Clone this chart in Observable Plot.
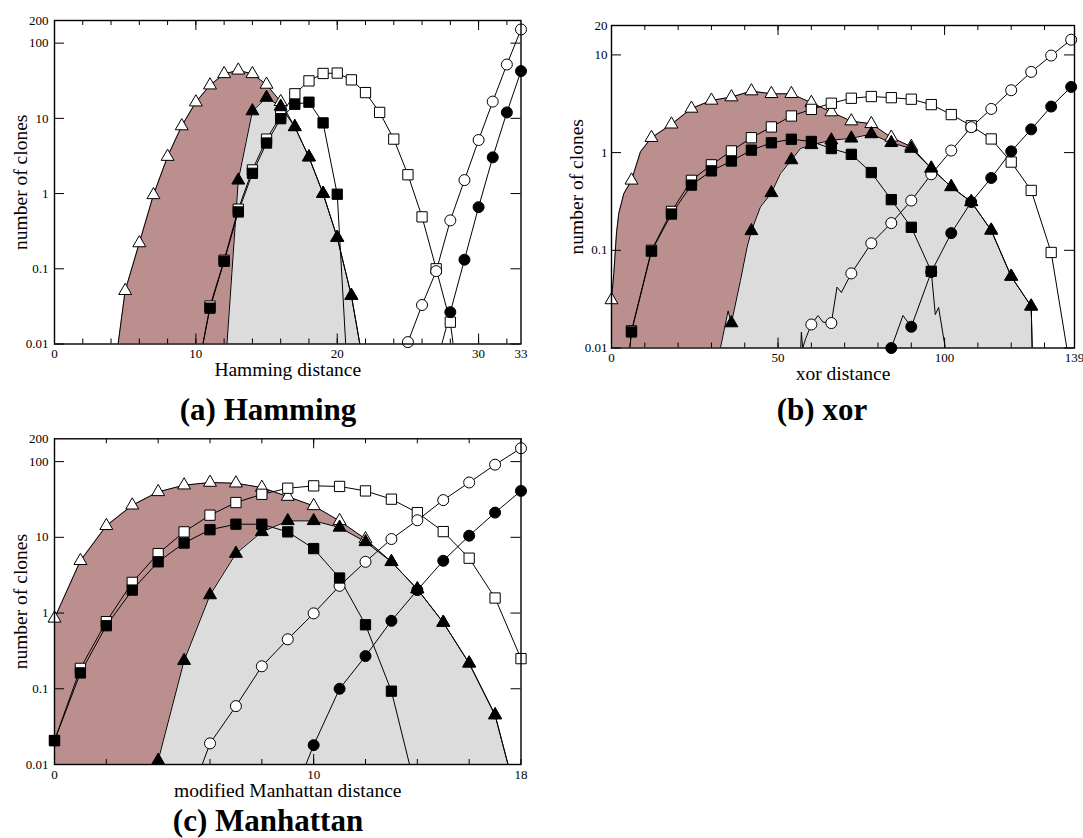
<!DOCTYPE html>
<html><head><meta charset="utf-8">
<script src="https://cdn.jsdelivr.net/npm/d3@7"></script>
<script src="https://cdn.jsdelivr.net/npm/@observablehq/plot@0.6"></script>
<style>
body{margin:0;background:#fff;}
#wrap{position:relative;width:1083px;height:838px;font-family:"Liberation Serif","Times New Roman",serif;overflow:hidden;}
.panel{position:absolute;}
.title{position:absolute;font-weight:bold;font-size:31px;line-height:31px;text-align:center;width:400px;color:#000;white-space:nowrap;}
</style></head><body>
<div id="wrap">
  <div class="panel" id="pa" style="left:0;top:0"></div>
  <div class="panel" id="pb" style="left:540px;top:0"></div>
  <div class="panel" id="pc" style="left:0;top:420px"></div>
  <div class="title" style="left:68px;top:394px">(a) Hamming</div>
  <div class="title" style="left:622px;top:394px">(b) xor</div>
  <div class="title" style="left:68px;top:805px">(c) Manhattan</div>
</div>
<script>
// ---------- (a) Hamming distance ----------
const hamOpenTri = [[4.5,0.01],[5,0.051],[6,0.22],[7,0.96],[8,3.1],[9,7.9],[10,16.4],[11,27.6],[12,39],[13,43.5],[14,39],[15,28.2],[16,16.6],[17,7.7],[18,3.05],[19,1.0],[20,0.26],[21,0.044],[21.6,0.01]];
const hamFillTri = [[12.2,0.01],[13,1.5],[14,12.5],[15,18.9],[16,14.4],[17,7.7],[18,3.05],[19,1.0],[20,0.26],[21,0.044],[21.6,0.01]];
const hamOpenSq = [[10.5,0.01],[11,0.032],[12,0.13],[13,0.62],[14,2.06],[15,5.3],[16,10.8],[17,21.2],[18,31.5],[19,39.5],[20,40],[21,32.5],[22,22],[23,12],[24,5.3],[25,1.78],[26,0.49],[27,0.1],[28,0.0195],[28.2,0.01]];
const hamFillSq = [[10.5,0.01],[11,0.03],[12,0.126],[13,0.57],[14,1.86],[15,4.7],[16,9.9],[17,15.4],[18,16.4],[19,8.7],[20,0.98],[20.6,0.01]];
const hamOpenCirc = [[25,0.0106],[26,0.033],[27,0.093],[28,0.44],[29,1.51],[30,5.15],[31,16.7],[32,52],[33,152]];
const hamFillCirc = [[27.4,0.01],[28,0.0265],[29,0.132],[30,0.66],[31,3.03],[32,12],[33,42.5]];
const hamXTicks = [0,2,4,6,8,10,12,14,16,18,20,22,24,26,28,30,32];
const hamXMajor = [0,10,20,30];
const hamXLabels = [0,10,20,30,33];

// ---------- (b) xor distance ----------
const xorOpenTri = [[0,0.031],[0.7,0.058],[1.5,0.15],[2.2,0.24],[3.7,0.38],[6,0.52],[8.7,1.02],[12,1.42],[18,1.95],[24,2.83],[30,3.42],[36,3.7],[42,4.26],[48,4.0],[54,4.0],[60,3.24],[66,2.6],[72,2.1],[78,1.97],[84,1.43],[90,1.15],[96,0.69],[102,0.446],[108,0.313],[114,0.16],[120,0.054],[126,0.0267],[126.3,0.01]];
const xorFillTri = [[32.7,0.01],[35,0.024],[36,0.018],[38.7,0.049],[40.7,0.108],[42,0.158],[44.7,0.278],[48,0.387],[50.7,0.61],[54,0.84],[56.7,1.1],[60,1.2],[66,1.34],[72,1.4],[78,1.55],[84,1.26],[90,1.1],[96,0.69],[102,0.446],[108,0.313],[114,0.16],[120,0.054],[126,0.0267],[126.3,0.01]];
const xorOpenSq = [[5.5,0.01],[6,0.015],[12,0.1],[18,0.25],[24,0.52],[30,0.75],[36,1.04],[42,1.42],[48,1.83],[54,2.37],[60,2.77],[66,3.2],[72,3.6],[78,3.75],[84,3.65],[90,3.52],[96,3.1],[102,2.45],[108,1.88],[114,1.38],[120,0.8],[126,0.41],[132,0.095],[136.7,0.01]];
const xorFillSq = [[5.5,0.01],[6,0.0146],[12,0.098],[18,0.235],[24,0.465],[30,0.65],[36,0.82],[42,1.06],[48,1.26],[54,1.37],[60,1.3],[66,1.1],[72,0.96],[78,0.625],[84,0.33],[90,0.172],[96,0.061],[97.2,0.022],[98.2,0.026],[100.2,0.01]];
const xorOpenCirc = [[56.8,0.01],[57,0.0145],[57.4,0.01],[58.3,0.0125],[60,0.0174],[62,0.0215],[63.5,0.0184],[66,0.018],[67.7,0.042],[69,0.037],[72,0.058],[78,0.118],[84,0.19],[90,0.323],[96,0.6],[102,1.05],[108,1.82],[114,2.8],[120,4.35],[126,6.7],[132,9.85],[138,14.3]];
const xorFillCirc = [[84,0.01],[87.5,0.0215],[90,0.0165],[96,0.06],[102,0.15],[108,0.312],[114,0.55],[120,1.03],[126,1.73],[132,2.96],[138,4.7]];
const xorXTicks = [0,10,20,30,40,50,60,70,80,90,100,110,120,130];
const xorXMajor = [0,50,100];
const xorXLabels = [0,50,100,139];

// ---------- (c) modified Manhattan distance ----------
const manOpenTri = [[0,0.85],[1,4.9],[2,14.2],[3,26.5],[4,39.8],[5,48.8],[6,52.9],[7,51.8],[8,45.4],[9,34.5],[10,26],[11,16.5],[12,9.5],[13,4.75],[14,2.07],[15,0.75],[16,0.217],[17,0.045],[17.5,0.01]];
const manFillTri = [[3.9,0.01],[4,0.0113],[5,0.235],[6,1.73],[7,6.1],[8,11.8],[9,16.5],[10,16.5],[11,13.5],[12,8.7],[13,4.75],[14,2.07],[15,0.75],[16,0.217],[17,0.045],[17.5,0.01]];
const manOpenSq = [[0,0.0207],[1,0.186],[2,0.77],[3,2.54],[4,6.1],[5,11.8],[6,19.6],[7,28.8],[8,37],[9,44.5],[10,47.8],[11,47],[12,41],[13,31.9],[14,21.2],[15,11.9],[16,5.3],[17,1.58],[18,0.25]];
const manFillSq = [[0,0.0207],[1,0.162],[2,0.68],[3,2.01],[4,4.75],[5,8.4],[6,12.6],[7,14.9],[8,14.9],[9,11.8],[10,7.1],[11,2.9],[12,0.7],[13,0.093],[13.7,0.01]];
const manOpenCirc = [[5.7,0.01],[6,0.019],[7,0.059],[8,0.198],[9,0.45],[10,0.99],[11,2.29],[12,4.75],[13,9.5],[14,16.8],[15,31],[16,53],[17,91],[18,150]];
const manFillCirc = [[9.7,0.01],[10,0.018],[11,0.1],[12,0.27],[13,0.79],[14,2.01],[15,4.9],[16,10.5],[17,21.2],[18,41]];
const manXTicks = [0,2,4,6,8,10,12,14,16,18];
const manXMajor = [0,10];
const manXLabels = [0,10,18];

// ---------- shared y ticks ----------
const yMajorWide = [0.01,0.1,1,10,100];
const yLabelsWide = [0.01,0.1,1,10,100,200];
const yMajorXor = [0.01,0.1,1,10];
const yLabelsXor = [0.01,0.1,1,10,20];

const BROWN = "#bc8f8f", GRAY = "#dcdcdc";
const FONT = '"Liberation Serif","Times New Roman",serif';

function panel(o) {
  const ih = o.height - o.mt - o.mb, iw = o.width - o.ml - o.mr;
  const X = d => d[0], Y = d => d[1];
  const isMarker = d => Math.abs(d[0] / o.step - Math.round(d[0] / o.step)) < 1e-9;
  const series = [
    {data: o.openTri, symbol: "triangle", fill: "white", r: 4.8},
    {data: o.openSq, symbol: "square", fill: "white", r: 5.8},
    {data: o.openCirc, symbol: "circle", fill: "white", r: 5.5},
    {data: o.fillTri, symbol: "triangle", fill: "black", r: 4.8},
    {data: o.fillSq, symbol: "square", fill: "black", r: 5.8},
    {data: o.fillCirc, symbol: "circle", fill: "black", r: 5.5}
  ];
  const marks = [
    Plot.areaY(o.openTri, {x: X, y1: o.ymin, y2: Y, fill: BROWN, clip: true}),
    Plot.areaY(o.fillTri, {x: X, y1: o.ymin, y2: Y, fill: GRAY, clip: true}),
    Plot.ruleX(o.xTicks, {x: d => d, insetTop: ih - 5, stroke: "black"}),
    Plot.ruleX(o.xTicks, {x: d => d, insetBottom: ih - 5, stroke: "black"}),
    Plot.ruleX(o.xMajor, {x: d => d, insetTop: ih - 10, stroke: "black"}),
    Plot.ruleX(o.xMajor, {x: d => d, insetBottom: ih - 10, stroke: "black"}),
    Plot.ruleY(o.yMajor, {y: d => d, insetRight: iw - 10, stroke: "black"}),
    Plot.ruleY(o.yMajor, {y: d => d, insetLeft: iw - 10, stroke: "black"}),
    ...series.map(s => Plot.line(s.data, {x: X, y: Y, stroke: "black", strokeWidth: 1, clip: true})),
    ...series.map(s => Plot.dot(s.data.filter(isMarker), {x: X, y: Y, symbol: s.symbol, r: s.r, fill: s.fill, stroke: "black", strokeWidth: 1})),
    Plot.frame({stroke: "black", strokeWidth: 1.4}),
    Plot.text(o.xLabels, {x: d => d, text: d => String(d), frameAnchor: "bottom", lineAnchor: "top", dy: 5, fontSize: 13}),
    Plot.text(o.yLabels, {y: d => d, text: d => String(d), frameAnchor: "left", textAnchor: "end", dx: o.ylabDx, fontSize: 13}),
    Plot.text([o.xTitle], {text: d => d, frameAnchor: "bottom", textAnchor: "middle", lineAnchor: "middle", dy: 26, fontSize: 19.5}),
    Plot.text([o.yTitle], {text: d => d, frameAnchor: "left", textAnchor: "middle", lineAnchor: "middle", rotate: -90, dx: o.ytitleDx, fontSize: 19.5})
  ];
  return Plot.plot({
    width: o.width, height: o.height,
    marginLeft: o.ml, marginRight: o.mr, marginTop: o.mt, marginBottom: o.mb,
    x: {type: "linear", domain: [0, o.xmax], axis: null},
    y: {type: "log", domain: [o.ymin, o.ymax], axis: null},
    style: {fontFamily: FONT, overflow: "visible", background: "none", color: "black"},
    marks
  });
}

document.getElementById("pa").append(panel({
  width: 540, height: 390, ml: 54, mr: 19.5, mt: 20, mb: 46.5,
  xmax: 33, ymin: 0.01, ymax: 200, step: 1,
  openTri: hamOpenTri, fillTri: hamFillTri, openSq: hamOpenSq, fillSq: hamFillSq, openCirc: hamOpenCirc, fillCirc: hamFillCirc,
  xTicks: hamXTicks, xMajor: hamXMajor, xLabels: hamXLabels, yMajor: yMajorWide, yLabels: yLabelsWide,
  ylabDx: -6, ytitleDx: -34, xTitle: "Hamming distance", yTitle: "number of clones"
}));
document.getElementById("pb").append(panel({
  width: 543, height: 390, ml: 71, mr: 9, mt: 25, mb: 42.5,
  xmax: 139, ymin: 0.01, ymax: 20, step: 6,
  openTri: xorOpenTri, fillTri: xorFillTri, openSq: xorOpenSq, fillSq: xorFillSq, openCirc: xorOpenCirc, fillCirc: xorFillCirc,
  xTicks: xorXTicks, xMajor: xorXMajor, xLabels: xorXLabels, yMajor: yMajorXor, yLabels: yLabelsXor,
  ylabDx: -4, ytitleDx: -35, xTitle: "xor distance", yTitle: "number of clones"
}));
document.getElementById("pc").append(panel({
  width: 540, height: 390, ml: 54, mr: 19.5, mt: 18.3, mb: 46,
  xmax: 18, ymin: 0.01, ymax: 200, step: 1,
  openTri: manOpenTri, fillTri: manFillTri, openSq: manOpenSq, fillSq: manFillSq, openCirc: manOpenCirc, fillCirc: manFillCirc,
  xTicks: manXTicks, xMajor: manXMajor, xLabels: manXLabels, yMajor: yMajorWide, yLabels: yLabelsWide,
  ylabDx: -6, ytitleDx: -34, xTitle: "modified Manhattan distance", yTitle: "number of clones"
}));
</script>
</body></html>
